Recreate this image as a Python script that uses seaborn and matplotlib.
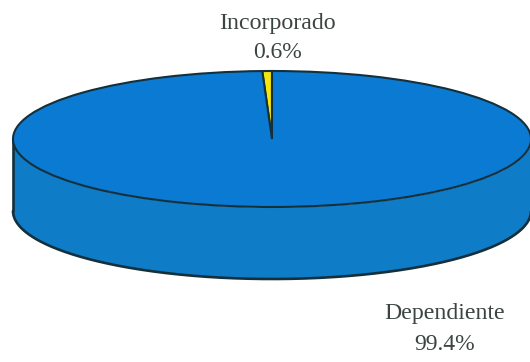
import numpy as np
import matplotlib
matplotlib.use("Agg")
import matplotlib.pyplot as plt
import seaborn as sns

categories = ["Incorporado", "Dependiente"]
shares = [0.6, 99.4]
share_labels = ["0.6%", "99.4%"]
top_colors = ["#f5e60f", "#0a7ad2"]
side_color = "#0f7cc8"
edge_color = "#14303c"
text_color = "#3a4440"

sns.set_theme(style="white")
plt.rcParams["font.family"] = ["Liberation Serif", "DejaVu Serif"]

W, H = 530, 362
cx, cy, rx, ry, depth_px = 272, 139, 259, 68, 72
depth = depth_px / ry

fig = plt.figure(figsize=(W / 100, H / 100), dpi=100)
ax = fig.add_axes([0, 0, 1, 1])

# extruded side of the disc
t = np.linspace(np.pi, 2 * np.pi, 400)
x = np.cos(t)
y = np.sin(t)
ax.fill_between(x, y, y - depth, color=side_color, lw=0, zorder=1)
ax.plot(x, y - depth, color=edge_color, lw=1.9, zorder=2)
ax.plot([-1, -1], [0, -depth], color=edge_color, lw=1.9, zorder=2)
ax.plot([1, 1], [0, -depth], color=edge_color, lw=1.9, zorder=2)

# top face
wedges, _ = ax.pie(shares, colors=top_colors, startangle=90, counterclock=True,
                   radius=1, center=(0, 0), frame=True,
                   wedgeprops=dict(edgecolor=edge_color, linewidth=1.5, zorder=3))

ax.set_aspect("auto")
ax.set_xlim(-cx / rx, (W - cx) / rx)
ax.set_ylim(-(H - cy) / ry, cy / ry)
ax.set_xticks([])
ax.set_yticks([])
ax.axis("off")

positions = {"Incorporado": (277, 24, 53), "Dependiente": (445, 314, 345)}
for name, lab in zip(categories, share_labels):
    px, y1, y2 = positions[name]
    fig.text(px / W, 1 - y1 / H, name, ha="center", va="center", fontsize=17.2, color=text_color)
    fig.text(px / W, 1 - y2 / H, lab, ha="center", va="center", fontsize=17, color=text_color)

fig.savefig("out.png", dpi=100, facecolor="white")
